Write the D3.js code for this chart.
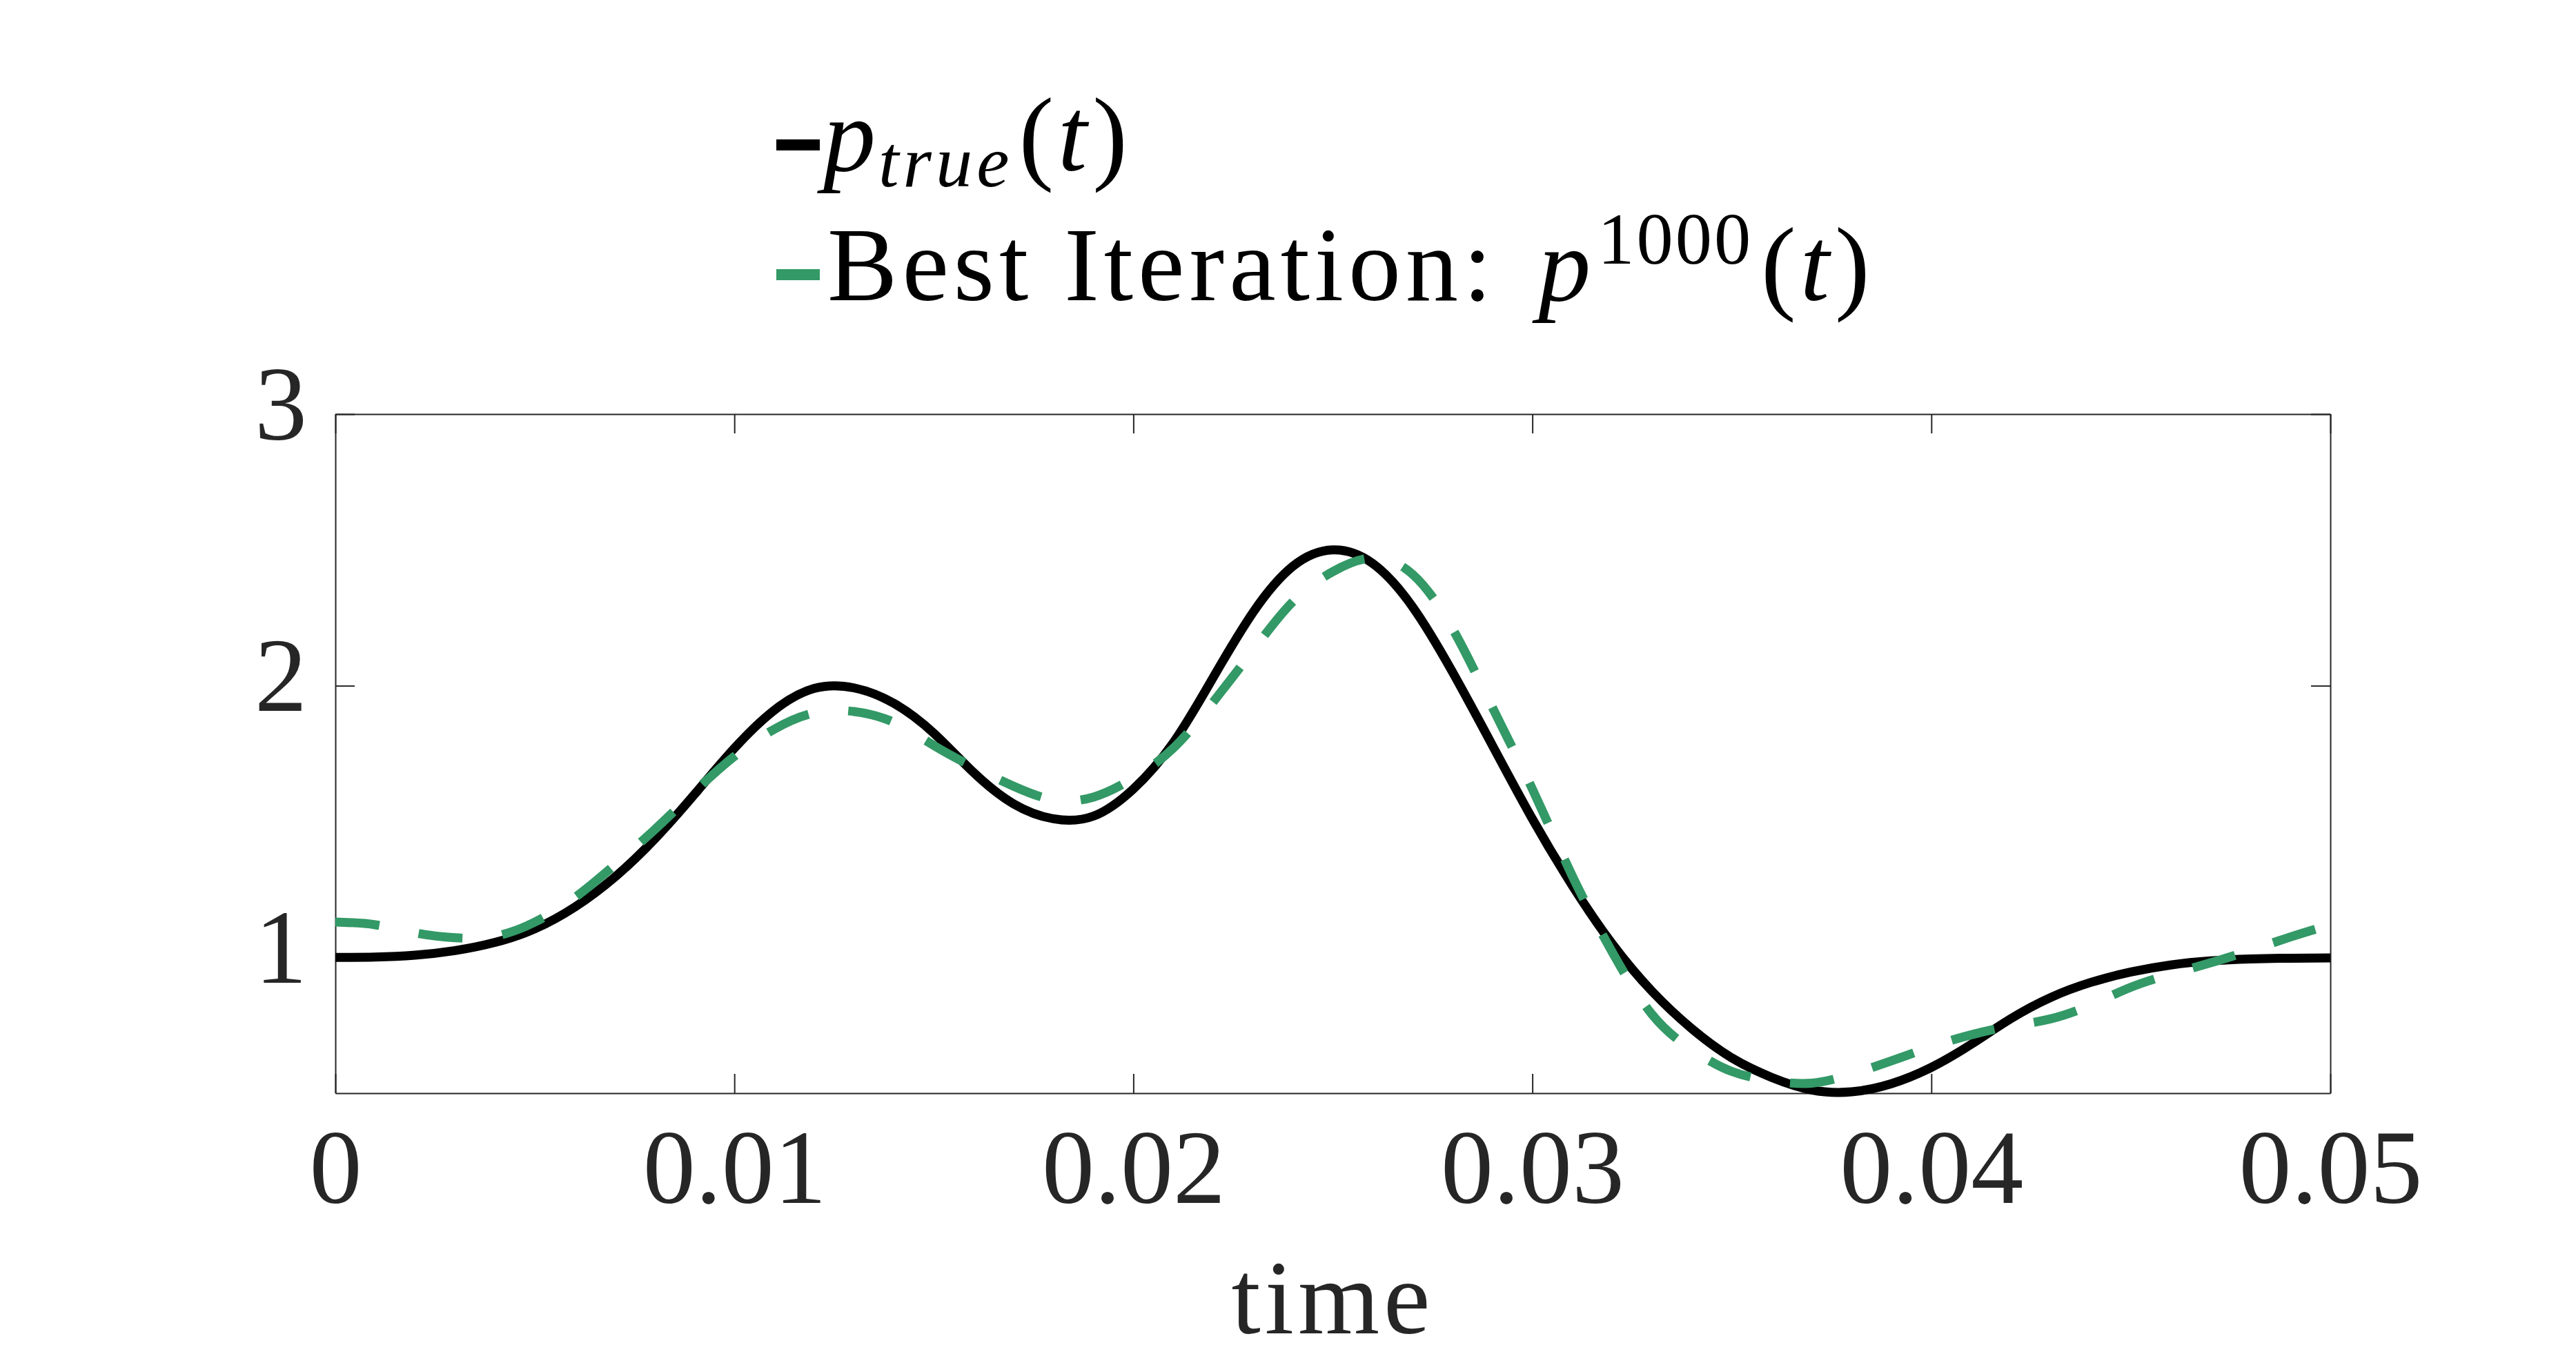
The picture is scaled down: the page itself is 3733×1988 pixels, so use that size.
<!DOCTYPE html>
<html>
<head>
<meta charset="utf-8">
<script src="https://cdn.jsdelivr.net/npm/d3@7/dist/d3.min.js"></script>
<style>
  body { margin: 0; background: #fff; }
  svg { display: block; }
  text { font-family: 'Liberation Serif', 'Times New Roman', serif; }
</style>
</head>
<body>
<svg id="graph" width="3733" height="1988"></svg>
<script>
/*******************************************************************************************/
// Data (time in s, pressure)

var tVals = [0.000, 0.001, 0.002, 0.003, 0.004, 0.005, 0.006, 0.007, 0.008, 0.009,
             0.010, 0.011, 0.012, 0.013, 0.014, 0.015, 0.016, 0.017, 0.018, 0.019,
             0.020, 0.021, 0.022, 0.023, 0.024, 0.025, 0.026, 0.027, 0.028, 0.029,
             0.030, 0.031, 0.032, 0.033, 0.034, 0.035, 0.036, 0.037, 0.038, 0.039,
             0.040, 0.041, 0.042, 0.043, 0.044, 0.045, 0.046, 0.047, 0.048, 0.049, 0.050];

var pTrue = [1.000, 1.001, 1.008, 1.025, 1.055, 1.105, 1.185, 1.295, 1.435, 1.600,
             1.770, 1.910, 1.990, 1.992, 1.935, 1.825, 1.680, 1.565, 1.510, 1.520,
             1.620, 1.790, 2.030, 2.270, 2.440, 2.500, 2.450, 2.290, 2.050, 1.780,
             1.510, 1.265, 1.050, 0.875, 0.737, 0.630, 0.558, 0.512, 0.505, 0.535,
             0.595, 0.680, 0.775, 0.853, 0.908, 0.946, 0.972, 0.987, 0.994, 0.997, 0.998];

var pBest = [1.130, 1.120, 1.090, 1.072, 1.078, 1.130, 1.220, 1.340, 1.470, 1.610,
             1.740, 1.840, 1.900, 1.905, 1.865, 1.780, 1.700, 1.630, 1.580, 1.590,
             1.660, 1.770, 1.940, 2.130, 2.310, 2.420, 2.470, 2.410, 2.210, 1.920,
             1.620, 1.300, 1.020, 0.790, 0.660, 0.580, 0.546, 0.537, 0.570, 0.619,
             0.671, 0.715, 0.747, 0.774, 0.825, 0.890, 0.938, 0.980, 1.026, 1.075, 1.120];

var xTicks = [0, 0.01, 0.02, 0.03, 0.04, 0.05];
var xTickLabels = ['0', '0.01', '0.02', '0.03', '0.04', '0.05'];
var yTicks = [1, 2, 3];
var yTickLabels = ['1', '2', '3'];

/*******************************************************************************************/
// Layout

var plotLeft = 486, plotRight = 3377, plotTop = 600, plotBottom = 1584;
var axisColor = '#262626', green = '#339966';
var fontSize = 152;

var svg = d3.select('#graph');

var xScale = d3.scaleLinear().domain([0, 0.05]).range([plotLeft, plotRight]);
var yScale = d3.scaleLinear().domain([0.5, 3]).range([plotBottom, plotTop]);

var lineGen = d3.line()
  .x(function(d){ return xScale(d.t) })
  .y(function(d){ return yScale(d.p) })
  .curve(d3.curveNatural);

var trueData = tVals.map(function(t, i){ return { t: t, p: pTrue[i] } });
var bestData = tVals.map(function(t, i){ return { t: t, p: pBest[i] } });

/*******************************************************************************************/
// Axes (box with inward ticks on all four sides)

function styleAxis(g){
  g.selectAll('path, line').attr('stroke', axisColor).attr('stroke-width', 2);
  g.selectAll('text').attr('fill', axisColor).attr('font-size', fontSize)
    .attr('font-family', "'Liberation Serif', serif");
}

var xAxis = svg.append('g').attr('transform', 'translate(0,' + plotBottom + ')')
  .call(d3.axisBottom(xScale).tickValues(xTicks).tickSizeInner(-28).tickSizeOuter(0)
    .tickFormat(function(d, i){ return xTickLabels[i] }));
xAxis.call(styleAxis);
xAxis.selectAll('text').attr('dy', null).attr('y', 159);

svg.append('g').attr('transform', 'translate(0,' + plotTop + ')')
  .call(d3.axisTop(xScale).tickValues(xTicks).tickSizeInner(-28).tickSizeOuter(0).tickFormat(''))
  .call(styleAxis);

var yAxis = svg.append('g').attr('transform', 'translate(' + plotLeft + ',0)')
  .call(d3.axisLeft(yScale).tickValues(yTicks).tickSizeInner(-28).tickSizeOuter(0)
    .tickFormat(function(d, i){ return yTickLabels[i] }));
yAxis.call(styleAxis);
yAxis.selectAll('text').attr('dy', null).attr('x', -41).attr('y', 36);

svg.append('g').attr('transform', 'translate(' + plotRight + ',0)')
  .call(d3.axisRight(yScale).tickValues(yTicks).tickSizeInner(-28).tickSizeOuter(0).tickFormat(''))
  .call(styleAxis);

svg.append('text')
  .attr('x', (plotLeft + plotRight) / 2).attr('y', 1932)
  .attr('text-anchor', 'middle').attr('font-size', fontSize)
  .attr('letter-spacing', 6).attr('fill', axisColor)
  .text('time');

/*******************************************************************************************/
// Curves

svg.append('path').attr('d', lineGen(trueData))
  .attr('fill', 'none').attr('stroke', '#000').attr('stroke-width', 13);

svg.append('path').attr('d', lineGen(bestData))
  .attr('fill', 'none').attr('stroke', green).attr('stroke-width', 13)
  .attr('stroke-dasharray', '64,58');

/*******************************************************************************************/
// Legend

var legend = svg.append('g');

legend.append('line').attr('x1', 1125).attr('x2', 1188).attr('y1', 210).attr('y2', 210)
  .attr('stroke', '#000').attr('stroke-width', 16);
legend.append('line').attr('x1', 1125).attr('x2', 1188).attr('y1', 398).attr('y2', 398)
  .attr('stroke', green).attr('stroke-width', 16);

var l1 = legend.append('text').attr('x', 1193).attr('y', 247).attr('font-size', fontSize).attr('fill', '#000');
l1.append('tspan').attr('font-style', 'italic').attr('letter-spacing', 4).text('p');
l1.append('tspan').attr('font-style', 'italic').attr('font-size', fontSize * 0.7)
  .attr('dy', 23).attr('letter-spacing', 6).text('true');
l1.append('tspan').attr('dy', -23).attr('dx', 8).text('(');
l1.append('tspan').attr('font-style', 'italic').attr('dx', 6).text('t');
l1.append('tspan').attr('dx', 8).text(')');

var l2 = legend.append('text').attr('x', 1199).attr('y', 435).attr('font-size', fontSize).attr('fill', '#000');
l2.append('tspan').attr('letter-spacing', 7).text('Best Iteration:');
l2.append('tspan').attr('font-style', 'italic').attr('dx', 60).text('p');
l2.append('tspan').attr('font-size', fontSize * 0.7).attr('dy', -53).attr('dx', 10).attr('letter-spacing', 3).text('1000');
l2.append('tspan').attr('dy', 53).attr('dx', 12).text('(');
l2.append('tspan').attr('font-style', 'italic').attr('dx', 6).text('t');
l2.append('tspan').attr('dx', 8).text(')');
</script>
</body>
</html>
